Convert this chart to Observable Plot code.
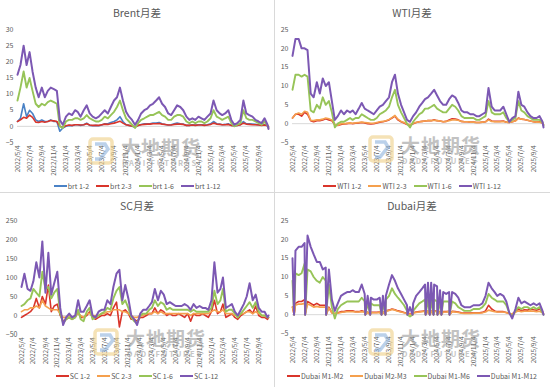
<!DOCTYPE html>
<html><head><meta charset="utf-8">
<script src="https://cdn.jsdelivr.net/npm/d3@7"></script>
<script src="https://cdn.jsdelivr.net/npm/@observablehq/plot@0.6"></script>
<style>
body{margin:0;background:#fff;font-family:"Noto Sans CJK SC","Noto Sans",sans-serif;}
#root{position:relative;width:550px;height:387px;overflow:hidden;background:#fff;}
.panel{position:absolute;width:274px;height:193px;}
.title{position:absolute;left:0;right:0;top:5px;text-align:center;font-size:10.5px;color:#595959;}
.legend{position:absolute;left:0;right:0;display:flex;justify-content:center;align-items:center;gap:7px;font-size:7px;color:#595959;white-space:nowrap;}
.legend .it{display:flex;align-items:center;}
.legend .sw{display:inline-block;width:13px;height:2px;margin-right:1px;}
.wm{position:absolute;opacity:0.6;pointer-events:none;z-index:5;}
.wm .cn{position:absolute;font-size:19px;font-weight:700;color:#9a9a9a;letter-spacing:1px;line-height:20px;white-space:nowrap;}
.wm .en{position:absolute;font-size:7.5px;font-weight:700;color:#a0a0a0;letter-spacing:1.8px;white-space:nowrap;}
.vline{position:absolute;left:274px;top:0;width:1px;height:387px;background:#d9d9d9;}
.hline{position:absolute;left:0;top:192px;width:550px;height:1px;background:#d9d9d9;}
svg{overflow:visible;}
</style></head>
<body><div id="root"></div>
<script>
const dates = [
"2022-05-04","2022-05-19","2022-06-04","2022-06-19","2022-07-04","2022-07-19","2022-08-04","2022-08-19","2022-09-04","2022-09-19","2022-10-04","2022-10-19","2022-11-04","2022-11-19","2022-12-04","2022-12-19",
"2023-01-04","2023-01-19","2023-02-04","2023-02-19","2023-03-04","2023-03-19","2023-04-04","2023-04-19","2023-05-04","2023-05-19","2023-06-04","2023-06-19","2023-07-04","2023-07-19","2023-08-04","2023-08-19","2023-09-04","2023-09-19","2023-10-04","2023-10-19","2023-11-04","2023-11-19","2023-12-04","2023-12-19",
"2024-01-04","2024-01-19","2024-02-04","2024-02-19","2024-03-04","2024-03-19","2024-04-04","2024-04-19","2024-05-04","2024-05-19","2024-06-04","2024-06-19","2024-07-04","2024-07-19","2024-08-04","2024-08-19","2024-09-04","2024-09-19","2024-10-04","2024-10-19","2024-11-04","2024-11-19","2024-12-04","2024-12-19",
"2025-01-04","2025-01-19","2025-02-04","2025-02-19","2025-03-04","2025-03-19","2025-04-04","2025-04-19","2025-05-04","2025-05-19","2025-06-04","2025-06-19","2025-07-04","2025-07-19","2025-08-04","2025-08-19","2025-09-04","2025-09-19","2025-10-04","2025-10-19","2025-10-24"];

const xTicks = ["2022-05-04","2022-07-04","2022-09-04","2022-11-04","2023-01-04","2023-03-04","2023-05-04","2023-07-04","2023-09-04","2023-11-04","2024-01-04","2024-03-04","2024-05-04","2024-07-04","2024-09-04","2024-11-04","2025-01-04","2025-03-04","2025-05-04","2025-07-04","2025-09-04"];

// Brent
const brt12 = [16,19,25,19,23,17,12,9,12,9, 11,12,11.5,11,2,0.5,3,4,3.5,5, 4.5,3,5,6.5,4,3,2.5,3,4,5, 4,6,8,9,12,8,4.5,3,2,0.5, 2,4,5,5.5,6.5,7,8,9,7,6, 4,3.5,5,6.5,6,5,3,2,2.5,2, 3,2.5,2,3,4,8,5,4,3.5,4, 5,2,0.5,1,2,8,4,3.5,3,2, 1.5,1,2.5,0.5,-0.8];
const brt6 = [8,12,17,12,15,11,7,6,7,6.5, 7.5,8,7.5,7,0,-0.5,1.5,2,2,2.5, 2.5,2,2.5,3.5,2.5,2,1.5,1.5,2,3, 2.5,3.5,4.5,6,8,5,2.5,1.5,0.5,-0.5, 1,2,2.5,3,3.5,3.5,4,4.5,3.5,3, 2,2,3,3.5,3.5,3,1.5,1,1.5,1, 1.5,1.5,1,1.5,2.5,5,3,2.5,2,2.5, 3,1,0,0.5,1,5,2.5,2,2,1.5, 1,0.5,1.5,0.3,-0.5];
const brt1_2 = [1.5,2.5,7,3,5,4,2,1.5,2,1.5, 1.5,2,1.5,1.5,-1.5,-0.5,0,0.3,0.2,0.5, 0.5,0.3,0.5,1,0.3,0.2,0.3,0.2,0.4,0.8, 0.8,1.2,1.5,2,3,1.5,0.5,0.3,0,-0.3, 0.3,0.6,0.8,0.8,0.8,1,1,1.2,0.8,0.6, 0.4,0.5,0.8,1,0.8,0.7,0.3,0.3,0.5,0.4, 0.5,0.5,0.4,0.5,0.8,1.5,0.8,0.7,0.5,0.6, 0.8,0.3,0.2,0.3,0.5,1.5,0.8,0.8,0.7,0.6, 0.5,0.4,0.6,0.2,-0.2];
const brt2_3 = [1.5,2,2.8,2.5,3.5,2.8,1.3,1.2,1.5,1.3, 1.5,1.8,1.7,1.5,0,-0.3,0.2,0.4,0.3,0.5, 0.5,0.4,0.5,0.8,0.4,0.3,0.3,0.3,0.5,0.7, 0.6,0.8,1,1.3,1.6,1,0.5,0.3,0.1,-0.1, 0.3,0.5,0.6,0.7,0.7,0.8,0.8,0.9,0.7,0.6, 0.4,0.4,0.6,0.7,0.7,0.6,0.3,0.3,0.4,0.3, 0.4,0.4,0.3,0.4,0.6,1,0.7,0.6,0.5,0.5, 0.6,0.3,0.2,0.3,0.5,1,0.7,0.6,0.5,0.5, 0.4,0.3,0.4,0.2,0];

// WTI
const wti12 = [18,22.5,22.5,20,20,19.5,8,7,11,8, 12,10,11,6,1,2,3.5,2.5,3.5,3, 3.5,2.5,4,5.5,4,3.5,3,2.5,3.5,4.5, 5,6,7,11,13,8,5,3,1,0.5, 2,3,4.5,5.5,6.5,7,8,9,7.5,6, 5,5,6.5,7.5,7,5.5,3.5,3,3,2.5, 2.5,2,2,2.5,3,9.5,4.5,3.5,3.5,3.5, 4.5,2.5,0.5,1.5,2,8.5,5,4.5,3,2, 1.5,1.5,2,0.5,-1];
const wti6 = [9,13,13,12.5,13,12.5,3.5,3,5,4, 7,5,6,3,-1,0,0.5,0.5,1,1.5, 1,1.5,1.5,2.5,2,1.5,1,1,1.5,2.5, 3,3.5,4.5,7,9,5,3,1.5,0,-1, 0.5,1.5,2.5,3,4,4,4.5,5,4,3.5, 3,3,4,5,4.5,3.5,2,1.5,1.5,1.5, 1.5,1,1,1.5,2,6,3,2.5,2.5,2.5, 3,1.5,0.5,1,1.5,6,3.5,3,2,1.5, 1,1,1,0.3,-0.5];
const wti1_2 = [1.5,2.5,2.5,2,3,2.5,0.8,0.5,0.8,0.8, 1,1.3,1,0.8,-0.3,-0.5,-0.2,-0.1,0,0.1, 0,0.1,0.2,0.3,0.2,0,-0.1,0,0.2,0.4, 0.5,0.7,1,1.5,2,1,0.5,0.2,-0.2,-0.4, 0,0.3,0.5,0.6,0.7,0.8,0.8,1,0.8,0.7, 0.5,0.6,1,1.3,1.2,1,0.6,0.5,0.5,0.4, 0.4,0.3,0.3,0.4,0.5,1.2,0.7,0.6,0.6,0.6, 0.7,0.4,0.3,0.5,0.8,1.5,1.2,1.1,0.9,0.7, 0.5,0.4,0.5,0.2,-0.2];
const wti2_3 = [1.5,2.5,2.8,2.5,3.3,3,0.9,0.8,1,1, 1.2,1.5,1.3,1,-0.2,-0.4,0,0,0.1,0.2, 0.1,0.2,0.3,0.4,0.3,0.2,0.1,0.1,0.3,0.5, 0.6,0.8,1.1,1.6,2.2,1.2,0.6,0.3,-0.1,-0.3, 0.1,0.3,0.5,0.6,0.7,0.8,0.8,0.9,0.8,0.7, 0.5,0.6,0.8,1,1,0.9,0.6,0.5,0.5,0.4, 0.4,0.3,0.3,0.4,0.5,1,0.6,0.5,0.5,0.5, 0.6,0.4,0.3,0.5,0.7,1.4,1.2,1.1,0.9,0.7, 0.5,0.4,0.4,0.2,-0.3];

// SC
const sc12 = [75,110,70,65,90,140,100,195,60,165, 55,85,115,20,-25,-5,5,-5,0,40, 10,10,25,40,0,-5,10,15,15,40, 30,75,110,120,40,80,45,0,-10,-25, 5,15,15,25,35,70,40,65,55,30, 35,30,25,25,25,30,25,15,30,20, 25,20,20,15,40,140,60,70,100,20, 25,30,10,0,15,30,50,85,40,55, 20,10,10,-5,0];
const sc6 = [25,30,40,45,70,60,50,115,70,75, 45,60,70,5,-20,-10,-5,-10,-5,15, -10,-15,10,20,-10,-5,0,5,10,20, 15,45,65,75,30,40,20,-5,-15,-20, 0,5,5,15,20,40,25,35,30,15, 20,15,15,15,15,15,15,10,15,10, 10,10,10,10,20,65,30,40,70,10, 15,15,5,-5,5,15,25,35,20,35, 10,0,0,-5,-5];
const sc1_2 = [-5,0,5,10,20,45,20,50,30,80, 10,25,30,0,-15,-10,-5,-10,-5,10, -5,-5,0,10,-5,-10,-5,0,0,5, 0,20,35,-30,10,15,5,-10,-10,-15, -5,-5,0,5,5,20,5,15,10,0, 5,0,0,5,0,-5,5,-15,5,0, 0,5,0,-5,10,40,5,10,30,-5, 0,5,-5,-10,0,5,10,15,5,25, 0,-5,-5,-10,-5];
const sc2_3 = [10,15,15,20,20,25,20,40,25,20, 15,15,15,5,-5,-5,0,-5,0,5, 0,-5,5,5,0,0,0,5,5,10, 10,15,15,15,10,10,5,0,-5,-5, 0,0,5,5,5,10,5,10,5,5, 5,5,5,5,5,5,5,0,5,5, 5,5,5,5,10,15,10,10,15,5, 5,5,0,0,5,5,10,10,5,10, 5,0,0,-5,-5];

// Dubai
const dub12 = [15,17,18,18,19,21,18,16,14,14, 12,12.5,12,4,1,3,5,5.5,6,6, 6.5,6,6,8,5.5,5,4.5,4,4,4.5, 5,5,8,10.5,9,7,5.5,4,2.5,2, 3,5,6,7,8,8.5,8.5,8,7.5,6.5, 6,5.5,6,6,5.5,4.5,2.5,2,2,2, 2.5,2.5,2.5,3,5,8.5,7,6,5,5.5, 5,3.5,0.5,-1,1.5,4.5,3,3.5,3,2.5, 3,2.5,3,1,0];
const dub6 = [9,11,10.5,11,13.5,12,11.5,10,9,8.5, 10,9,8,2,-1,1.5,2.5,3,3.5,3.5, 3.5,3.5,3.5,4.5,3.5,3,3,2.5,2.5,2.5, 3,4,5,7,5.5,4.5,3.5,2.5,1,-0.5, 1,2,3,3.5,4,4,4,4,3.5,3.5, 3.5,3.5,3.5,3.5,3,2,1.5,1,1,1, 1.5,1.5,1.5,2,3,5.5,4.5,4,3.5,3.5, 3.5,2.5,0.5,-0.5,1,2,1.5,2,2,1.5, 2,1.5,2,0.5,0];
const dub1_2 = [2,3,3.5,3.5,4,3.5,3,2.5,3,2.5, 2.5,2.5,2,0.5,0.3,0.5,0.8,0.8,1,1, 1,0.8,0.8,1,0.8,0.7,0.6,0.6,0.6,0.7, 0.8,1,1.2,1.5,1.3,1,0.8,0.6,0.4,0.3, 0.5,0.7,0.8,0.9,1,1,1,1,0.9,0.9, 0.8,0.8,0.9,0.9,0.8,0.7,0.5,0.4,0.4,0.4, 0.5,0.5,0.5,0.6,1,2.5,1.5,1,0.8,0.8, 0.8,0.6,0.3,0.2,0.8,1.5,1,1.3,1.2,1.5, 1.3,1.2,1.5,0.8,0.3];
const dub2_3 = [2,2.5,2.8,2.8,3,2.8,2.5,2,2.2,2, 2,2,1.8,0.5,0.3,0.4,0.6,0.7,0.8,0.8, 0.8,0.7,0.7,0.8,0.7,0.6,0.5,0.5,0.5,0.6, 0.7,0.9,1.1,1.4,1.2,0.9,0.7,0.5,0.3,0.2, 0.4,0.6,0.7,0.8,0.9,0.9,0.9,0.9,0.8,0.8, 0.7,0.7,0.8,0.8,0.7,0.6,0.4,0.3,0.3,0.3, 0.4,0.4,0.4,0.5,0.7,1.2,1,0.8,0.7,0.7, 0.7,0.5,0.3,0.2,0.6,1,0.8,0.9,0.9,1, 0.9,0.8,0.9,0.5,0.2];
// days where the Dubai series drop to zero (missing quotes)
const dubZeroDates = ["2022-05-12","2022-07-07","2022-10-21","2023-05-07","2023-06-01","2023-07-28","2023-08-17","2023-12-06","2024-01-01","2024-03-07","2024-03-28","2024-04-16","2024-05-06","2024-05-26","2024-07-06"];

const colors = {blue:"#4a82c6", red:"#d9352b", orange:"#f5a04e", green:"#97c458", purple:"#7c58b3"};

const panels = [
  {title:"Brent月差", left:0, top:0, ml:17, mt:29, pb:142, ydom:[-5,30], yticks:[-5,0,5,10,15,20,25,30], legTop:181, wm:[88,137],
   series:[{name:"brt 1-2",v:brt1_2,c:colors.blue,w:1.6},{name:"brt 2-3",v:brt2_3,c:colors.red,w:1.6},{name:"brt 1-6",v:brt6,c:colors.green,w:1.9},{name:"brt 1-12",v:brt12,c:colors.purple,w:2}]},
  {title:"WTI月差", left:275, top:0, ml:17, mt:29, pb:142, ydom:[-5,25], yticks:[-5,0,5,10,15,20,25], legTop:181, wm:[93,135],
   series:[{name:"WTI 1-2",v:wti1_2,c:colors.red,w:1.6},{name:"WTI 2-3",v:wti2_3,c:colors.orange,w:1.6},{name:"WTI 1-6",v:wti6,c:colors.green,w:1.9},{name:"WTI 1-12",v:wti12,c:colors.purple,w:2}]},
  {title:"SC月差", left:0, top:193, ml:21, mt:27, pb:141, ydom:[-50,250], yticks:[-50,0,50,100,150,200,250], legTop:178, wm:[93,135],
   series:[{name:"SC 1-2",v:sc1_2,c:colors.red,w:1.6},{name:"SC 2-3",v:sc2_3,c:colors.orange,w:1.6},{name:"SC 1-6",v:sc6,c:colors.green,w:1.9},{name:"SC 1-12",v:sc12,c:colors.purple,w:2}]},
  {title:"Dubai月差", left:275, top:193, ml:17, mt:27, pb:140, ydom:[-5,25], yticks:[-5,0,5,10,15,20,25], legTop:178, wm:[93,135], zeros:dubZeroDates,
   series:[{name:"Dubai M1-M2",v:dub1_2,c:colors.red,w:1.6},{name:"Dubai M2-M3",v:dub2_3,c:colors.orange,w:1.6},{name:"Dubai M1-M6",v:dub6,c:colors.green,w:1.9},{name:"Dubai M1-M12",v:dub12,c:colors.purple,w:2}]}
];

const root = document.getElementById("root");
const fmt = d3.utcFormat("%Y/%-m/%-d");
const H = 183;

for (const p of panels) {
  const div = document.createElement("div");
  div.className = "panel";
  div.style.left = p.left + "px"; div.style.top = p.top + "px";
  root.appendChild(div);

  const t = document.createElement("div");
  t.className = "title"; t.textContent = p.title;
  div.appendChild(t);

  const marks = [Plot.ruleY([0], {stroke:"#d9d9d9", strokeWidth:1})];
  for (const s of p.series) {
    let rows = dates.map((d,i) => ({date:new Date(d), value:s.v[i]}));
    if (p.zeros) {
      rows = rows.concat(p.zeros.map(d => ({date:new Date(d), value:0})));
      rows.sort((a,b) => a.date - b.date);
    }
    marks.push(Plot.line(rows, {x:"date", y:"value", stroke:s.c, strokeWidth:s.w, strokeLinejoin:"round"}));
  }
  marks.push(Plot.axisX({ticks: xTicks.map(d => new Date(d)), tickFormat: fmt, tickRotate:-90, tickSize:0, tickPadding:3, fontSize:6.5, fill:"#595959", label:null}));
  marks.push(Plot.axisY({ticks: p.yticks, tickSize:0, tickPadding:4, fontSize:7, fill:"#595959", label:null}));

  const chart = Plot.plot({
    width: 274, height: H,
    marginLeft: p.ml, marginRight: 6, marginTop: p.mt, marginBottom: H - p.pb,
    style: {fontFamily:'"Noto Sans CJK SC","Noto Sans",sans-serif', background:"transparent", color:"#595959"},
    x: {type:"utc", domain:[new Date(dates[0]), new Date(dates[dates.length-1])]},
    y: {domain: p.ydom},
    marks
  });
  chart.style.position = "absolute"; chart.style.left = "0px"; chart.style.top = "0px";
  div.appendChild(chart);

  // watermark
  const wm = document.createElement("div");
  wm.className = "wm";
  wm.style.left = p.wm[0] + "px"; wm.style.top = p.wm[1] + "px";
  wm.innerHTML = '<svg width="26" height="28" style="position:absolute;left:0;top:0"><rect x="2" y="2" width="22" height="24" rx="3" fill="none" stroke="#efcf86" stroke-width="3.5"/><path d="M7 7 L17 7 L20 12 L12 22 L7 22" fill="none" stroke="#8fb4dd" stroke-width="3.5"/></svg>'
    + '<div class="cn" style="left:33px;top:0px">大地期货</div>'
    + '<div class="en" style="left:34px;top:20px">DADI FUTURES</div>';
  div.appendChild(wm);

  // legend
  const lg = document.createElement("div");
  lg.className = "legend"; lg.style.top = p.legTop + "px";
  for (const s of p.series) {
    const it = document.createElement("span"); it.className = "it";
    it.innerHTML = '<span class="sw" style="background:' + s.c + '"></span><span>' + s.name + '</span>';
    lg.appendChild(it);
  }
  div.appendChild(lg);
}
const v = document.createElement("div"); v.className = "vline"; root.appendChild(v);
const h = document.createElement("div"); h.className = "hline"; root.appendChild(h);
</script>
</body></html>
